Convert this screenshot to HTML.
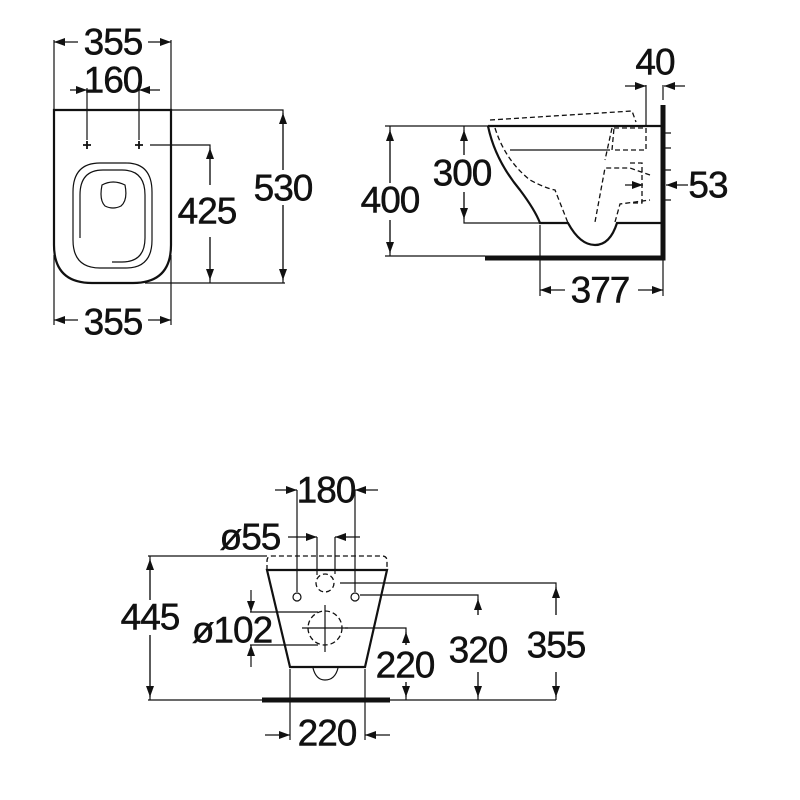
<!DOCTYPE html>
<html><head><meta charset="utf-8"><style>
html,body{margin:0;padding:0;background:#fff;width:800px;height:800px;overflow:hidden}
svg{display:block}
text{font-family:"Liberation Sans",sans-serif;font-size:37px;fill:#111;stroke:#111;stroke-width:0.5;text-anchor:middle;dominant-baseline:central;letter-spacing:-1px}
.l{stroke:#111;stroke-width:1.2;fill:none}
.l path[marker-end]{marker-end:url(#a)}
.o{stroke:#111;stroke-width:2.2;fill:none}
.d{stroke:#111;stroke-width:1.3;fill:none;stroke-dasharray:5 3}
.t{stroke:#111;stroke-width:5;fill:none}
</style></head><body>
<svg width="800" height="800" viewBox="0 0 800 800">
<defs>
<marker id="a" markerWidth="11" markerHeight="8" refX="11" refY="4" orient="auto" markerUnits="userSpaceOnUse"><path d="M0,0 L11,4 L0,8 Z" fill="#111"/></marker>
</defs>
<g class="l">
<path d="M54,40V110M171,40V110"/>
<path d="M78,42H54" marker-end=""/><path d="M148,42H171" marker-end=""/>
<path d="M87,88V140M139,88V140"/>
<path d="M70,90H87" marker-end=""/><path d="M160,90H139" marker-end=""/>
<path d="M150,145H210V185M210,237V283M171,110H283V170M283,205V283M145,283H285"/>
<path d="M210,185V148" marker-end=""/><path d="M210,237V280" marker-end=""/>
<path d="M283,170V113" marker-end=""/><path d="M283,205V280" marker-end=""/>
<path d="M54,255V325M171,255V325"/>
<path d="M78,320H54" marker-end=""/><path d="M148,320H171" marker-end=""/>
<path d="M83,145h8M87,141v8M135,145h8M139,141v8" stroke-width="1.8"/>
</g>
<path class="o" d="M54,110H171V245Q171,283 133,283H92Q54,283 54,245Z"/>
<path class="l" d="M73,192Q73,163 100,163H126Q152,163 152,192V240Q152,268 126,268H100Q73,268 73,240Z"/>
<path class="l" d="M80,238V195Q80,170 103,170H122Q145,170 145,195V238Q145,262 122,262H112"/>
<path class="l" d="M102,185Q113,179 125,185Q128,200 121,206Q113,210 105,206Q99,200 102,185Z"/>
<text x="113" y="42">355</text><text x="113" y="80">160</text>
<text x="207" y="211">425</text><text x="283" y="188">530</text><text x="113" y="322">355</text>
<g class="l">
<path d="M385,126H488M390,126V183M390,220V256M385,256H485"/>
<path d="M390,183V130" marker-end=""/><path d="M390,220V253" marker-end=""/>
<path d="M464,126V155M464,192V223H540"/>
<path d="M464,155V130" marker-end=""/><path d="M464,192V219" marker-end=""/>
<path d="M646,85V126M663,85V100"/>
<path d="M625,86H646" marker-end=""/><path d="M685,86H664" marker-end=""/>
<path d="M540,225V296M663,260V296"/>
<path d="M565,290H540" marker-end=""/><path d="M638,290H663" marker-end=""/>
<path d="M625,185H643" marker-end=""/><path d="M688,185H666" marker-end=""/>
<path d="M510,150H610M663,133h8M663,148h8M663,170h8M663,200h8"/>
</g>
<path class="o" d="M488,126H663M488,126Q495,160 520,190Q535,210 540,223H568Q580,245 595,245Q610,245 617,223H663"/>
<path class="t" d="M663,105V258H485"/>
<g class="d">
<path d="M490,120L632,111L636,122"/>
<path d="M495,128Q505,160 530,180Q545,188 555,190L568,223M615,222L620,204L650,200M650,175L630,168L605,168L595,222M612,128L605,160M614,128H646V150H612Z"/>
<path d="M630,163H642V203H632"/>
</g>
<text x="655" y="62">40</text><text x="462" y="173">300</text><text x="390" y="200">400</text>
<text x="708" y="185">53</text><text x="600" y="290">377</text>
<g class="l">
<path d="M297,490V592M355,490V592"/>
<path d="M275,490H297" marker-end=""/><path d="M378,490H355" marker-end=""/>
<path d="M317,537V575M335,537V574"/>
<path d="M288,537H317" marker-end=""/><path d="M360,537H335" marker-end=""/>
<path d="M148,556H267M150,556V600M150,635V700M148,700H265"/>
<path d="M150,600V559" marker-end=""/><path d="M150,635V697" marker-end=""/>
<path d="M250,612H318M250,645H318"/>
<path d="M251,590V612" marker-end=""/><path d="M251,667V645" marker-end=""/>
<path d="M345,628H406V645M406,682V700M360,595H478V615M478,672V700M340,583H556V615M556,672V700M390,700H556"/>
<path d="M406,645V632" marker-end=""/><path d="M406,682V697" marker-end=""/>
<path d="M478,615V599" marker-end=""/><path d="M478,672V697" marker-end=""/>
<path d="M556,615V587" marker-end=""/><path d="M556,672V697" marker-end=""/>
<path d="M290,669V740M365,669V740"/>
<path d="M265,735H290" marker-end=""/><path d="M390,735H365" marker-end=""/>
<circle cx="297" cy="597" r="4"/><circle cx="355" cy="597" r="4"/>
<path d="M325,605V652M302,628H348"/>
</g>
<path class="o" d="M267,570H387L365,667H290Z"/>
<path class="l" d="M313,668Q316,680 325,680Q335,680 338,668"/>
<path class="t" d="M262,700H390"/>
<g class="d">
<path d="M267,570V561Q267,556 272,556H382Q387,556 387,561V570"/>
<circle cx="325" cy="583" r="9"/><circle cx="325" cy="628" r="17"/>
</g>
<text x="326" y="490">180</text><text x="250" y="537">ø55</text><text x="150" y="617">445</text>
<text x="232" y="630">ø102</text><text x="405" y="665">220</text><text x="478" y="650">320</text>
<text x="556" y="645">355</text><text x="327" y="733">220</text>
</svg>
</body></html>
